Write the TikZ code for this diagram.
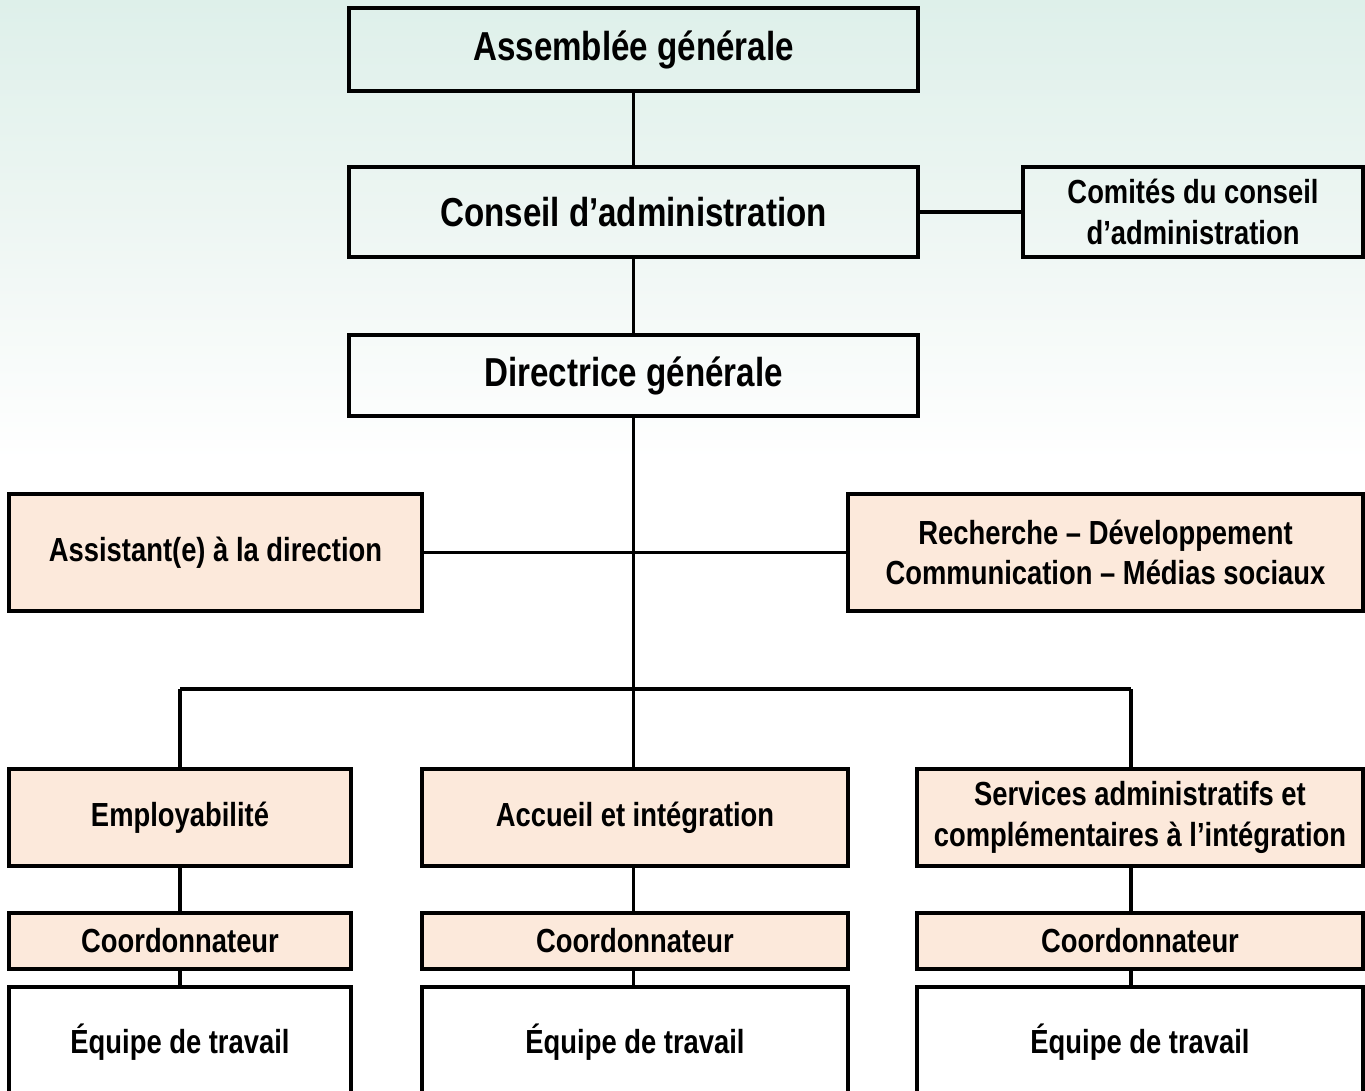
\documentclass[tikz,border=0pt]{standalone}
\usepackage{fontspec}
\setmainfont{Liberation Sans}[FakeStretch=0.82]
\usetikzlibrary{positioning}

\definecolor{bgtop}{RGB}{222,240,234}
\definecolor{bgmid}{RGB}{238,246,243}
\definecolor{peach}{RGB}{252,233,219}

\tikzset{
  box/.style={draw, line width=1.15pt, inner sep=0pt, outer sep=0pt, align=center, font=\bfseries\fontsize{9.5}{11.5}\selectfont},
  bigbox/.style={box, font=\bfseries\fontsize{11.5}{13.7}\selectfont},
  peachbox/.style={box, fill=peach},
  teambox/.style={box, fill=white},
  link/.style={line width=0.95pt}
}

\begin{document}
\begin{tikzpicture}
            \useasboundingbox (0,0) rectangle (13.650000,-10.910000);
            \clip (0,0) rectangle (13.650000,-10.910000);

            % Drawing background
            \fill [white] (0,0) rectangle (13.650000,-10.910000);%
            \shade [top color=bgtop, bottom color=white, middle color=bgmid] (0,0) rectangle (13.650000,-4.600000);%

            % Marking box {Assemblee}
            \node [bigbox, minimum width=5.69cm, minimum height=0.83cm] (asm) at (6.335000,-0.495000) {Assemblée générale};%

            % Marking box {Conseil}
            \node [bigbox, minimum width=5.69cm, minimum height=0.90cm] (cons) at (6.335000,-2.120000) {Conseil d’administration};%

            % Marking box {Comites}
            \node [box, minimum width=3.40cm, minimum height=0.90cm] (com) at (11.930000,-2.120000) {Comités du conseil\\d’administration};%

            % Marking box {Directrice}
            \node [bigbox, minimum width=5.69cm, minimum height=0.81cm] (dir) at (6.335000,-3.755000) {Directrice générale};%

            % Marking box {Assistant}
            \node [peachbox, minimum width=4.13cm, minimum height=1.17cm] (ass) at (2.155000,-5.525000) {Assistant(e) à la direction};%

            % Marking box {Recherche}
            \node [peachbox, minimum width=5.15cm, minimum height=1.17cm] (rech) at (11.055000,-5.525000) {Recherche – Développement\\Communication – Médias sociaux};%

            % Marking boxes of the three services
            \node [peachbox, minimum width=3.42cm, minimum height=0.97cm] (emp) at (1.800000,-8.175000) {Employabilité};%
            \node [peachbox, minimum width=4.26cm, minimum height=0.97cm] (acc) at (6.350000,-8.175000) {Accueil et intégration};%
            \node [peachbox, minimum width=4.46cm, minimum height=0.97cm] (serv) at (11.400000,-8.175000) {Services administratifs et\\complémentaires à l’intégration};%

            % Marking boxes {Coordonnateur}
            \node [peachbox, minimum width=3.42cm, minimum height=0.56cm] (coordE) at (1.800000,-9.410000) {Coordonnateur};%
            \node [peachbox, minimum width=4.26cm, minimum height=0.56cm] (coordA) at (6.350000,-9.410000) {Coordonnateur};%
            \node [peachbox, minimum width=4.46cm, minimum height=0.56cm] (coordS) at (11.400000,-9.410000) {Coordonnateur};%

            % Marking boxes {Equipe}
            \node [teambox, minimum width=3.42cm, minimum height=1.10cm] (teamE) at (1.800000,-10.420000) {Équipe de travail};%
            \node [teambox, minimum width=4.26cm, minimum height=1.10cm] (teamA) at (6.350000,-10.420000) {Équipe de travail};%
            \node [teambox, minimum width=4.46cm, minimum height=1.10cm] (teamS) at (11.400000,-10.420000) {Équipe de travail};%

            % Marking bus points
            \coordinate (busL) at (1.800000,-6.890000);%
            \coordinate (busM) at (6.335000,-6.890000);%
            \coordinate (busR) at (11.310000,-6.890000);%

            % Drawing segment asm cons
            \draw [link] (asm.south) -- (cons.north);%

            % Drawing segment cons com
            \draw [link] (cons.east) -- (com.west);%

            % Drawing segment cons dir
            \draw [link] (cons.south) -- (dir.north);%

            % Drawing segment dir bus
            \draw [link] (dir.south) -- (busM);%

            % Drawing segment ass rech
            \draw [link] (ass.east) -- (ass.east -| rech.west);%

            % Drawing bus
            \draw [link] (busL) -- (busR);%
            \draw [link] (busL) -- (emp.north);%
            \draw [link] (busM) -- (busM |- acc.north);%
            \draw [link] (busR) -- (busR |- serv.north);%

            % Drawing segments to coordonnateurs and teams
            \draw [link] (emp.south) -- (coordE.north);%
            \draw [link] (coordE.south) -- (teamE.north);%
            \draw [link] (acc.south -| busM) -- (coordA.north -| busM);%
            \draw [link] (coordA.south -| busM) -- (teamA.north -| busM);%
            \draw [link] (serv.south -| busR) -- (coordS.north -| busR);%
            \draw [link] (coordS.south -| busR) -- (teamS.north -| busR);%
\end{tikzpicture}
\end{document}
